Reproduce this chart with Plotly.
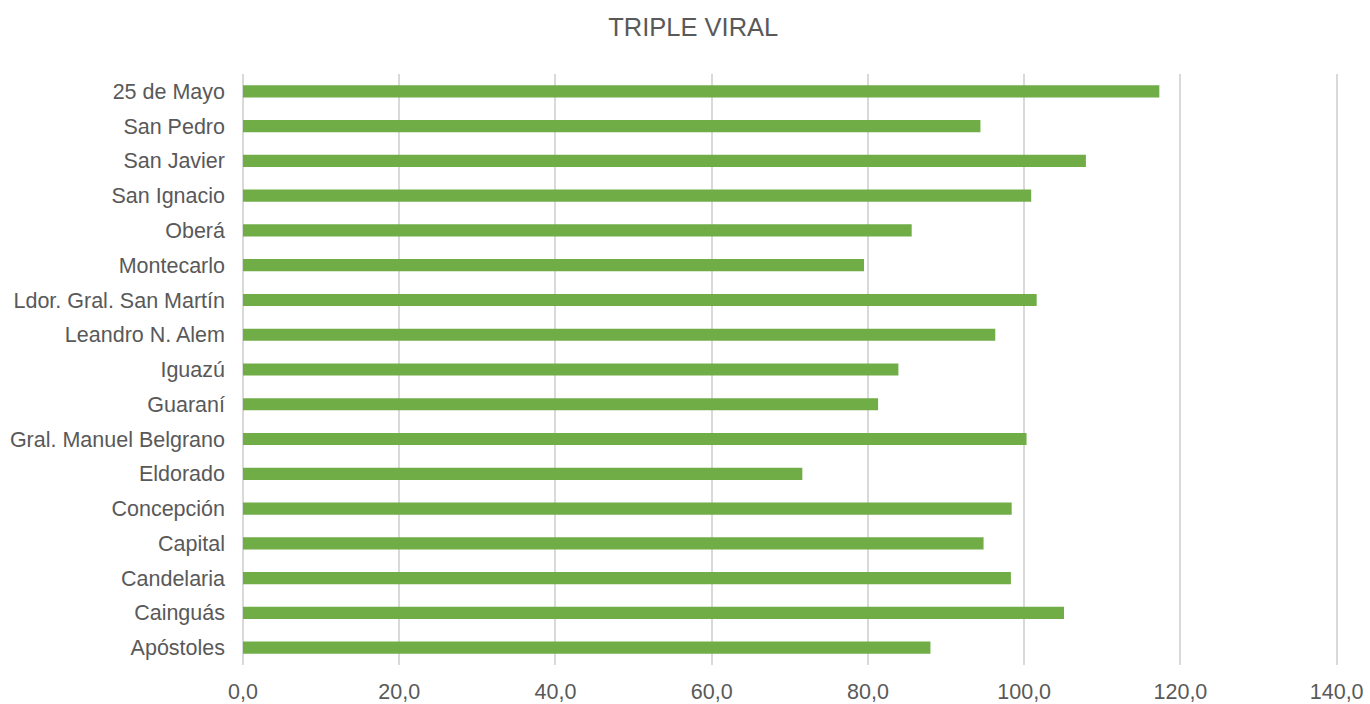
import plotly.graph_objects as go

categories = ["Apóstoles", "Cainguás", "Candelaria", "Capital", "Concepción", "Eldorado",
              "Gral. Manuel Belgrano", "Guaraní", "Iguazú", "Leandro N. Alem",
              "Ldor. Gral. San Martín", "Montecarlo", "Oberá", "San Ignacio",
              "San Javier", "San Pedro", "25 de Mayo"]
values = [88.0, 105.1, 98.3, 94.8, 98.4, 71.6, 100.3, 81.3, 83.9, 96.3,
          101.6, 79.5, 85.6, 100.9, 107.9, 94.4, 117.3]
tick_vals = [0, 20, 40, 60, 80, 100, 120, 140]
tick_text = ["0,0", "20,0", "40,0", "60,0", "80,0", "100,0", "120,0", "140,0"]

font_family = "Liberation Sans, Arial, sans-serif"
text_color = "#595959"

fig = go.Figure(go.Bar(
    x=values, y=categories, orientation="h",
    marker=dict(color="#70AD47", line=dict(width=0)),
    width=0.35,
))

fig.update_layout(
    width=1370, height=704,
    paper_bgcolor="white", plot_bgcolor="white",
    margin=dict(l=243, r=31, t=74, b=39, autoexpand=False),
    title=dict(text="TRIPLE VIRAL", x=0.506, xanchor="center", y=0.962, yanchor="middle",
               font=dict(family=font_family, size=25.5, color=text_color)),
    font=dict(family=font_family, size=21.5, color=text_color),
    showlegend=False,
)
fig.update_xaxes(range=[0, 140.3], tickvals=tick_vals, ticktext=tick_text,
                 showgrid=True, gridcolor="#d9d9d9", gridwidth=1.5,
                 zeroline=True, zerolinecolor="#d9d9d9", zerolinewidth=1.5,
                 showline=False, ticks="", ticklabelstandoff=11, automargin=False,
                 tickfont=dict(family=font_family, size=21.5, color=text_color))
fig.update_yaxes(categoryorder="array", categoryarray=categories,
                 showgrid=False, showline=False, ticks="", ticklabelstandoff=17,
                 automargin=False,
                 tickfont=dict(family=font_family, size=21.5, color=text_color))

fig.write_html("out.html", config={"displayModeBar": False},
               post_script="document.body.style.margin='0';document.body.style.overflow='hidden';")
